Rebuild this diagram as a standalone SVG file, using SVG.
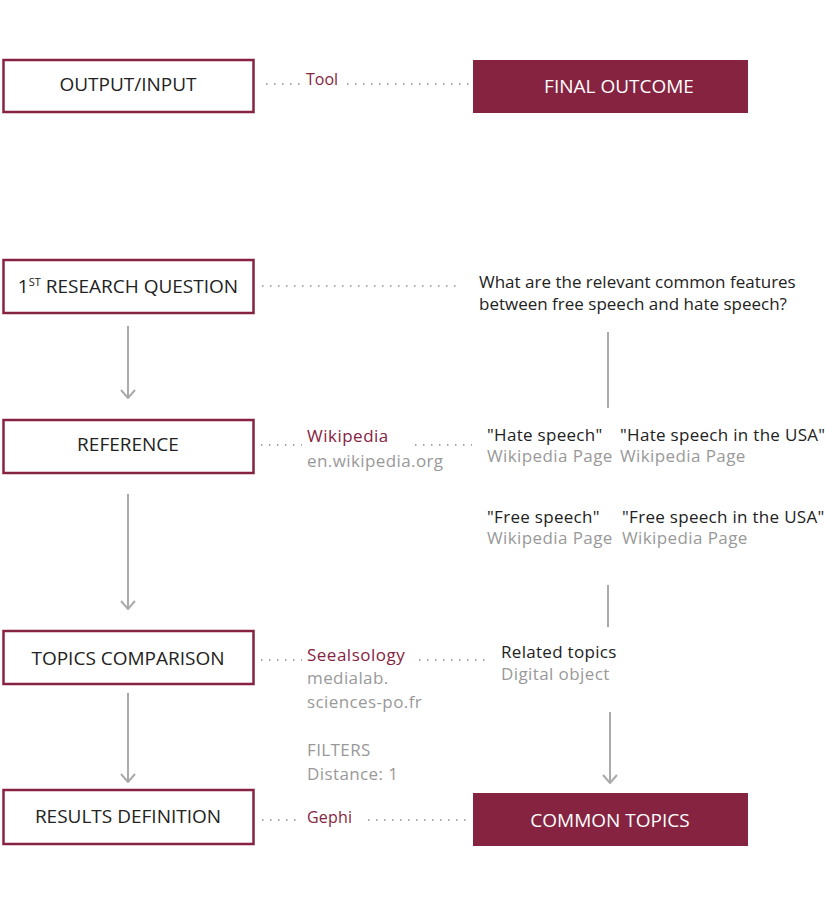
<svg xmlns="http://www.w3.org/2000/svg" width="825" height="921" viewBox="0 0 825 921">
<defs>
<style>
.box{fill:#fff;stroke:#862341;stroke-width:2.5}
.fill{fill:#862341}
.bt{font-family:"Open Sans","Liberation Sans",sans-serif;font-size:19px;fill:#222;text-anchor:middle}
.wt{font-family:"Open Sans","Liberation Sans",sans-serif;font-size:19px;fill:#fff;text-anchor:middle}
.t{font-family:"Open Sans","Liberation Sans",sans-serif;font-size:17px;fill:#222;letter-spacing:0.3px}
.q{font-family:"Open Sans","Liberation Sans",sans-serif;font-size:17px;fill:#222}
.g{font-family:"Open Sans","Liberation Sans",sans-serif;font-size:17px;fill:#999;letter-spacing:0.4px}
.c{font-family:"Open Sans","Liberation Sans",sans-serif;font-size:17px;fill:#862341;letter-spacing:0.5px}
.dot{stroke:#aaa;stroke-width:2;stroke-dasharray:1.5 6.5;fill:none}
.ln{stroke:#aaa;stroke-width:2;fill:none}
</style>
<marker id="ah" viewBox="0 0 10 16" refX="9" refY="8" markerWidth="10" markerHeight="16" markerUnits="userSpaceOnUse" orient="auto">
<path d="M1,1 L9,8 L1,15" fill="none" stroke="#aaa" stroke-width="2"/>
</marker>
</defs>
<g id="connectors">
<line class="dot" x1="266" y1="84" x2="303" y2="84"/>
<line class="dot" x1="347" y1="84" x2="472" y2="84"/>
<line class="dot" x1="262" y1="286" x2="462" y2="286"/>
<line class="dot" x1="261" y1="445" x2="302" y2="445"/>
<line class="dot" x1="415" y1="445" x2="472" y2="445"/>
<line class="dot" x1="261" y1="660" x2="302" y2="660"/>
<line class="dot" x1="419" y1="660" x2="487" y2="660"/>
<line class="dot" x1="262" y1="820" x2="302" y2="820"/>
<line class="dot" x1="368" y1="820" x2="466" y2="820"/>
<path class="ln" d="M128,326 V398" marker-end="url(#ah)"/>
<path class="ln" d="M128,494 V609" marker-end="url(#ah)"/>
<path class="ln" d="M128,693 V782" marker-end="url(#ah)"/>
<path class="ln" d="M608,332 V408"/>
<path class="ln" d="M608,585 V627"/>
<path class="ln" d="M610,712 V783" marker-end="url(#ah)"/>
</g>
<g id="output-input">
<rect class="box" x="3.5" y="60" width="250" height="52"/>
<text class="bt" x="128" y="91">OUTPUT/INPUT</text>
</g>
<g id="tool-label"><text class="c" x="306" y="85" style="font-size:16px;letter-spacing:0">Tool</text></g>
<g id="final-outcome">
<rect class="fill" x="473" y="60" width="275" height="53"/>
<text class="wt" x="619" y="93">FINAL OUTCOME</text>
</g>
<g id="research-question">
<rect class="box" x="3.5" y="260" width="250" height="53"/>
<text class="bt" x="128" y="293">1<tspan font-size="11" dy="-7">ST</tspan><tspan dy="7"> RESEARCH QUESTION</tspan></text>
</g>
<g id="question-text">
<text class="q" x="479" y="288">What are the relevant common features</text>
<text class="q" x="479" y="310">between free speech and hate speech?</text>
</g>
<g id="reference">
<rect class="box" x="3.5" y="420" width="250" height="53"/>
<text class="bt" x="128" y="451">REFERENCE</text>
</g>
<g id="wikipedia">
<text class="c" x="307" y="442">Wikipedia</text>
<text class="g" x="307" y="467">en.wikipedia.org</text>
</g>
<g id="hate-speech">
<text class="t" x="487" y="441">"Hate speech"</text>
<text class="g" x="487" y="462">Wikipedia Page</text>
</g>
<g id="hate-speech-usa">
<text class="t" x="620" y="441">"Hate speech in the USA"</text>
<text class="g" x="620" y="462">Wikipedia Page</text>
</g>
<g id="free-speech">
<text class="t" x="487" y="523">"Free speech"</text>
<text class="g" x="487" y="544">Wikipedia Page</text>
</g>
<g id="free-speech-usa">
<text class="t" x="622" y="523">"Free speech in the USA"</text>
<text class="g" x="622" y="544">Wikipedia Page</text>
</g>
<g id="topics-comparison">
<rect class="box" x="3.5" y="631" width="250" height="53"/>
<text class="bt" x="128" y="665">TOPICS COMPARISON</text>
</g>
<g id="seealsology">
<text class="c" x="307" y="661">Seealsology</text>
<text class="g" x="307" y="684">medialab.</text>
<text class="g" x="307" y="708">sciences-po.fr</text>
<text class="g" x="307" y="756">FILTERS</text>
<text class="g" x="307" y="780">Distance: 1</text>
</g>
<g id="related-topics">
<text class="t" x="501" y="658">Related topics</text>
<text class="g" x="501" y="680">Digital object</text>
</g>
<g id="results-definition">
<rect class="box" x="3.5" y="790" width="250" height="54"/>
<text class="bt" x="128" y="823">RESULTS DEFINITION</text>
</g>
<g id="gephi"><text class="c" x="307" y="823" style="font-size:16px;letter-spacing:0.2px">Gephi</text></g>
<g id="common-topics">
<rect class="fill" x="473" y="793" width="275" height="53"/>
<text class="wt" x="610" y="827">COMMON TOPICS</text>
</g>
</svg>
